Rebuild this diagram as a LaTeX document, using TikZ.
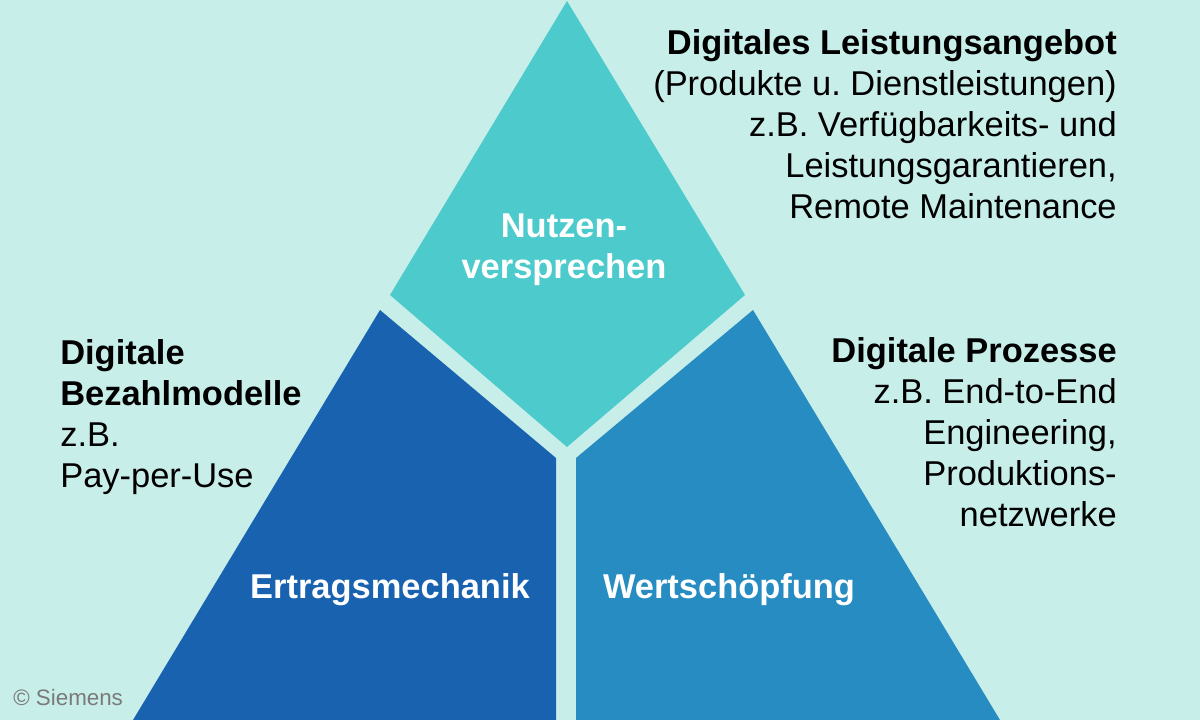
\documentclass[tikz,border=0pt]{standalone}
\usepackage{fontspec}
\setmainfont{Liberation Sans}
\frenchspacing

\definecolor{bgcyan}{HTML}{C8EEEA}
\definecolor{topteal}{HTML}{4DCBCC}
\definecolor{leftblue}{HTML}{1862B0}
\definecolor{rightblue}{HTML}{268CC1}
\definecolor{notegray}{HTML}{7A7A7A}

\tikzset{
  sidetext/.style={inner sep=0pt, text=black, font=\fontsize{24.5}{29.2}\selectfont},
  parttext/.style={inner sep=0pt, text=white, align=center, font=\bfseries\fontsize{24.5}{29.2}\selectfont}
}

\begin{document}
\begin{tikzpicture}[x=0.025cm, y=-0.025cm]
% Page size (pixel grid 1200 x 720)
\useasboundingbox (0,0) rectangle (1200,720);
\fill[bgcyan] (0,0) rectangle (1200,720);

% The three parts of the triangle
\fill[topteal] (567,1) -- (390,295) -- (567,447) -- (745,295) -- cycle;
\fill[leftblue] (380,310) -- (556,458) -- (556,720) -- (133,720) -- cycle;
\fill[rightblue] (753,310) -- (576,458) -- (576,720) -- (1000,720) -- cycle;

% Labels inside the parts
\node[parttext] (nutzen) at (564,250) {Nutzen-\\versprechen};
\node[parttext] (ertrag) at (390,590) {Ertragsmechanik};
\node[parttext] (wert) at (729,590) {Wertschöpfung};

% Side texts
\node[sidetext, anchor=north east, align=right] (angebot) at (1117,29) {\textbf{Digitales Leistungsangebot}\\(Produkte u. Dienstleistungen)\\z.B. Verfügbarkeits- und\\Leistungsgarantieren,\\Remote Maintenance};
\node[sidetext, anchor=north west, align=left] (bezahl) at (60,339) {\textbf{Digitale}\\\textbf{Bezahlmodelle}\\z.B.\\Pay-per-Use};
\node[sidetext, anchor=north east, align=right] (prozesse) at (1117,337) {\textbf{Digitale Prozesse}\\z.B. End-to-End\\Engineering,\\Produktions-\\netzwerke};

% Copyright note
\node[anchor=base west, inner sep=0pt, text=notegray, font=\fontsize{15.9}{18}\selectfont] (copy) at (13,705) {© Siemens};
\end{tikzpicture}
\end{document}
